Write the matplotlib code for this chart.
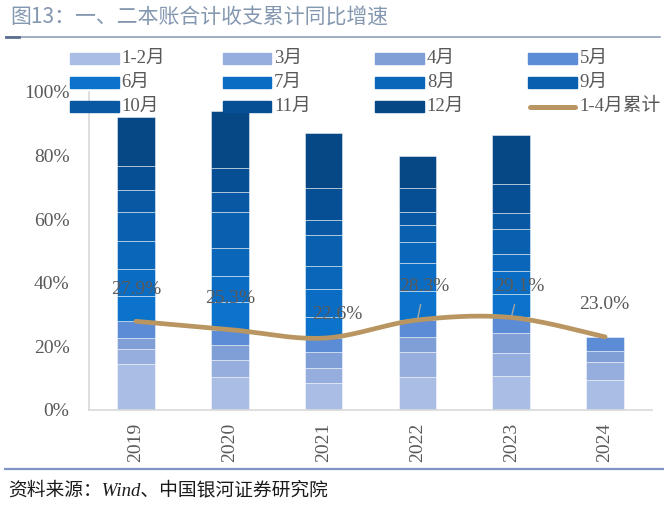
"""
Stacked cumulative monthly progress of the two budget books (2019-2024)
with the Jan-Apr cumulative YoY growth drawn as a smoothed line.
"""
import matplotlib
matplotlib.use('Agg')
import matplotlib.pyplot as plt
from matplotlib.patches import Rectangle
from matplotlib.lines import Line2D
import numpy as np

# categories and legend labels
years = ['2019', '2020', '2021', '2022', '2023', '2024']
months = ['1-2月', '3月', '4月', '5月', '6月', '7月', '8月', '9月', '10月', '11月', '12月']

# cumulative progress (%) at the top of each month segment, per year
cum_2019 = [14.5, 19.2, 22.6, 27.9, 36.0, 44.4, 53.1, 62.4, 69.2, 76.6, 92.0]
cum_2020 = [10.3, 15.8, 20.5, 25.3, 34.0, 42.0, 51.0, 62.4, 68.4, 76.2, 94.1]
cum_2021 = [8.6, 13.3, 18.1, 22.6, 29.1, 37.9, 45.2, 54.9, 59.7, 69.9, 87.1]
cum_2022 = [10.5, 18.1, 23.1, 28.3, 37.5, 46.3, 52.9, 58.3, 62.2, 69.9, 80.0]
cum_2023 = [10.8, 17.9, 24.2, 29.1, 36.5, 43.6, 48.9, 56.8, 62.1, 71.0, 86.4]
cum_2024 = [9.5, 15.0, 18.6, 23.0]

# 1-4月累计 yoy growth (%)
growth = [27.9, 25.3, 22.6, 28.3, 29.1, 23.0]
growth_labels = ['27.9%', '25.3%', '22.6%', '28.3%', '29.1%', '23.0%']

W, H = 664, 505


def smooth(xs, ys, n=40):
    """
    Excel-like smoothed line (Catmull-Rom through the points)
    :return: x, y arrays of the curve
    """
    p = np.column_stack([xs, ys]).astype(float)
    p = np.vstack([p[0], p, p[-1]])
    out = []
    t = np.linspace(0, 1, n)
    for i in range(1, len(p) - 2):
        p0, p1, p2, p3 = p[i - 1], p[i], p[i + 1], p[i + 2]
        c1 = p1 + (p2 - p0) / 6
        c2 = p2 - (p3 - p1) / 6
        seg = ((1 - t) ** 3)[:, None] * p1 + (3 * (1 - t) ** 2 * t)[:, None] * c1 \
            + (3 * (1 - t) * t ** 2)[:, None] * c2 + (t ** 3)[:, None] * p2
        out.append(seg)
    out = np.vstack(out)
    return out[:, 0], out[:, 1]


def main():
    plt.rcParams['font.family'] = ['Liberation Serif', 'Noto Sans CJK SC']

    colors = ['#A9BDE5', '#95AEDD', '#7F9FD6', '#5D8CD6', '#0B73CB', '#0A6DC3',
              '#0966B8', '#0860AE', '#0858A4', '#074F95', '#064886']
    line_color = '#B99661'
    grey = '#595959'

    fig = plt.figure(figsize=(W / 100, H / 100), dpi=100)
    ax = fig.add_axes([89 / W, 1 - 410 / H, (652 - 89) / W, (410 - 92) / H])

    x = np.arange(len(years))
    all_cum = [cum_2019, cum_2020, cum_2021, cum_2022, cum_2023, cum_2024]

    # stacked bars, one segment per month
    for xi, cum in zip(x, all_cum):
        bottom = 0
        for j, top in enumerate(cum):
            ax.bar(xi, top - bottom, bottom=bottom, width=0.4, color=colors[j],
                   edgecolor=(1, 1, 1, 0.55), linewidth=0.6, zorder=2)
            bottom = top

    # smoothed growth line
    sx, sy = smooth(x, growth)
    ax.plot(sx, sy, color=line_color, lw=3.4, solid_capstyle='round', zorder=3)

    # data labels (offsets in pixels)
    offsets = [(0, 32), (0, 31), (14, 24), (7, 34), (8, 31), (-1, 32)]
    for i, (v, lab) in enumerate(zip(growth, growth_labels)):
        dx, dy = offsets[i]
        if i in (3, 4):
            ax.annotate(lab, xy=(x[i], v), xytext=(dx, dy), textcoords='offset pixels',
                        ha='center', va='center', fontsize=14, color=grey, zorder=4,
                        arrowprops=dict(arrowstyle='-', color='#A6A6A6', lw=1,
                                        patchA=None, shrinkA=13.5, shrinkB=1.5))
        else:
            ax.annotate(lab, xy=(x[i], v), xytext=(dx, dy), textcoords='offset pixels',
                        ha='center', va='center', fontsize=14, color=grey, zorder=4)

    ax.set_xlim(-0.5, len(years) - 0.5)
    ax.set_ylim(0, 100)
    ax.set_yticks(np.arange(0, 101, 20))
    ax.set_yticklabels([f'{v}%' for v in range(0, 101, 20)])
    ax.set_xticks(x)
    ax.set_xticklabels(years, rotation=90)
    ax.tick_params(axis='y', length=0, pad=14, labelsize=14, labelcolor=grey)
    ax.tick_params(axis='x', length=0, pad=9, labelsize=14, labelcolor=grey)
    for side in ('top', 'right'):
        ax.spines[side].set_visible(False)
    for side in ('left', 'bottom'):
        ax.spines[side].set_color('#D9D9D9')
        ax.spines[side].set_linewidth(1.2)

    # legend, 4 columns laid out row by row
    labels = months + ['1-4月累计']
    for i, lab in enumerate(labels):
        col, row = i % 4, i // 4
        x0 = 70 + col * 152.7
        yc = 58.7 + row * 24
        if i < len(months):
            fig.add_artist(Rectangle((x0 / W, 1 - (yc + 5.3) / H), 48.5 / W, 10.6 / H,
                                     transform=fig.transFigure, color=colors[i],
                                     zorder=5))
        else:
            fig.add_artist(Line2D([(x0 + 2) / W, (x0 + 46.5) / W], [1 - yc / H] * 2,
                                  transform=fig.transFigure, color=line_color, lw=3.6,
                                  solid_capstyle='round', zorder=5))
        fig.text((x0 + 51.5) / W, 1 - yc / H, lab, fontsize=13.5, color=grey,
                 va='center', ha='left', zorder=5)

    # title and rules
    fig.text(10 / W, 1 - 17 / H, '图13：一、二本账合计收支累计同比增速', fontsize=15,
             color='#8497B0', va='center', ha='left', family=['Noto Sans CJK SC'])
    fig.add_artist(Line2D([6 / W, 660 / W], [1 - 36.5 / H] * 2, color='#8497B0', lw=1.1))
    fig.add_artist(Line2D([6 / W, 19 / W], [1 - 37 / H] * 2, color='#5C6F8F', lw=2))
    fig.add_artist(Line2D([5 / W, 664 / W], [1 - 469 / H] * 2, color='#7F93C4', lw=1.6))
    fig.text(8 / W, 1 - 490 / H, '资料来源：Wind、中国银河证券研究院', fontsize=13.5,
             color='#1A1A1A', va='center', ha='left', style='italic')

    fig.savefig('out.png', dpi=100)


if __name__ == '__main__':
    main()
